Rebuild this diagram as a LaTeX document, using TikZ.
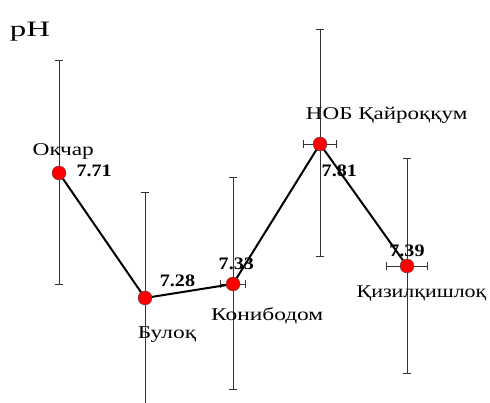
\documentclass[tikz,border=0pt]{standalone}
\usepackage{fontspec}
\setmainfont{Liberation Serif}
\usetikzlibrary{arrows.meta}
\newcommand{\widen}[2]{\scalebox{#1}[1]{#2}}

\begin{document}
\begin{tikzpicture}[x=1pt, y=-1pt,
        dot/.style={shape=circle, draw=black!70, fill=red, inner sep=0pt, minimum size=14pt},
        ebar/.style={draw=black!80, line width=0.9pt, {Bar[width=8pt]}-{Bar[width=8pt]}},
        site/.style={anchor=base, inner sep=0pt, font=\fontsize{18}{20}\selectfont},
        val/.style={anchor=base, inner sep=0pt, font=\fontsize{17.5}{20}\selectfont\bfseries}]
                        \useasboundingbox (0,0) rectangle (490,403);

                        \node (1) at (59,173) {};
                        \node (2) at (145,298) {};
                        \node (3) at (233,284) {};
                        \node (4) at (320,144) {};
                        \node (5) at (407,266) {};

                        \draw[ebar] (1.center) ++(0,-113) -- ++(0,225);
                        \draw[ebar, -{Bar[width=8pt]}] (2.center) ++(0,105) -- ++(0,-211);
                        \draw[ebar] (3.center) ++(0,-107) -- ++(0,213);
                        \draw[ebar] (4.center) ++(0,-115) -- ++(0,228);
                        \draw[ebar] (5.center) ++(0,-108) -- ++(0,216);
                        \draw[ebar] (2.center) ++(-6,0) -- ++(12,0);
                        \draw[ebar] (3.center) ++(-13,0) -- ++(26,0);
                        \draw[ebar] (4.center) ++(-17,0) -- ++(34,0);
                        \draw[ebar] (5.center) ++(-21,0) -- ++(42,0);

                        \path	[-, line width=2pt]	(1.center)	edge 	(2.center)
                        (2.center)	edge	(3.center)
                        (3.center)	edge	(4.center)
                        (4.center)	edge	(5.center);

                        \node[dot] at (1) {};
                        \node[dot] at (2) {};
                        \node[dot] at (3) {};
                        \node[dot] at (4) {};
                        \node[dot] at (5) {};

                        \node[anchor=base, inner sep=0pt, font=\fontsize{22}{24}\selectfont] (ph) at (30,36.7) {\widen{1.5}{pH}};

                        \node[site] (n1) at (63.3,155.7) {\widen{1.3}{Окчар}};
                        \node[site] (n2) at (167,338.3) {\widen{1.3}{Булоқ}};
                        \node[site] (n3) at (267.2,320) {\widen{1.3}{Конибодом}};
                        \node[site] (n4) at (386.7,120) {\widen{1.28}{НОБ Қайроққум}};
                        \node[site] (n5) at (421.5,297.5) {\widen{1.22}{Қизилқишлоқ}};

                        \node[val] (v1) at (94.2,176.7) {\widen{1.15}{7.71}};
                        \node[val] (v2) at (177.5,286.7) {\widen{1.15}{7.28}};
                        \node[val] (v3) at (236.3,269.3) {\widen{1.15}{7.33}};
                        \node[val] (v4) at (339.3,176.7) {\widen{1.15}{7.81}};
                        \node[val] (v5) at (407,257) {\widen{1.15}{7.39}};
                    \end{tikzpicture}
\end{document}
